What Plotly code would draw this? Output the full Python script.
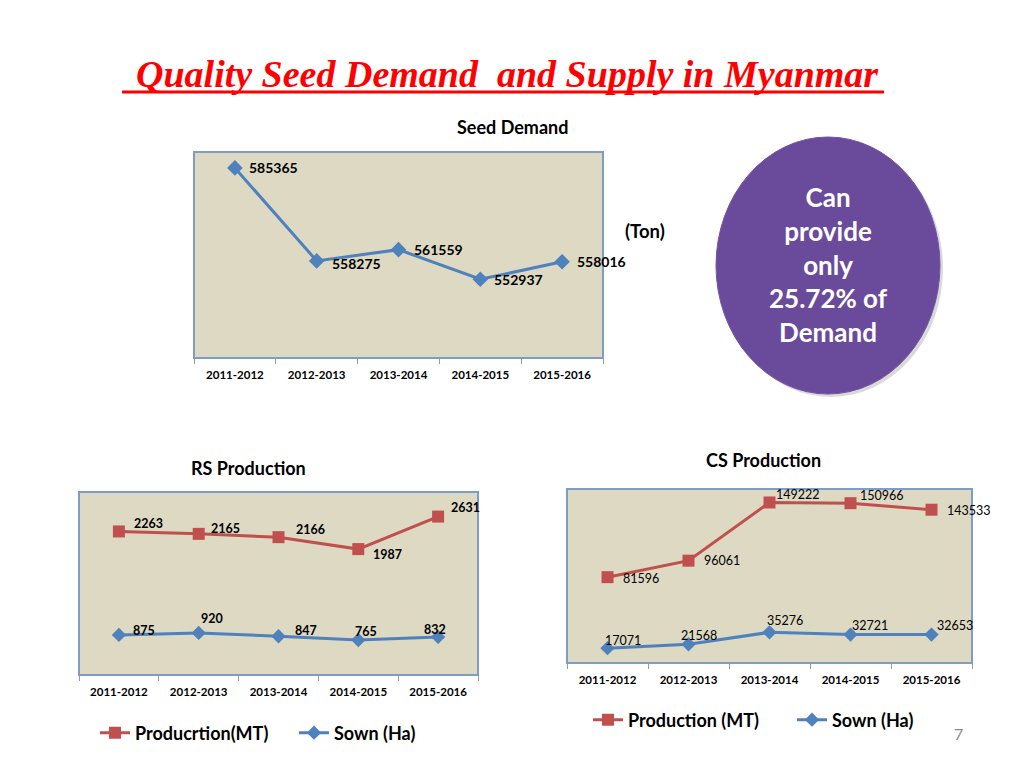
import plotly.graph_objects as go

# ---------------- data ----------------
years = ["2011-2012", "2012-2013", "2013-2014", "2014-2015", "2015-2016"]
seed_demand = [585365, 558275, 561559, 552937, 558016]
rs_production = [2263, 2165, 2166, 1987, 2631]
rs_sown = [875, 920, 847, 765, 832]
cs_production = [81596, 96061, 149222, 150966, 143533]
cs_sown = [17071, 21568, 35276, 32721, 32653]

W, H = 1024, 768
def px(x):
    return x / W
def py(y):
    return 1 - y / H

BLUE = "#4F81BD"
RED = "#C0504D"
BG = "#DDD9C3"
FONT = "Lato"

fig = go.Figure()

# Seed demand
fig.add_trace(go.Scatter(
    x=years, y=seed_demand, xaxis="x", yaxis="y",
    mode="lines+markers", line=dict(color=BLUE, width=3),
    marker=dict(symbol="diamond", size=12, color=BLUE),
    showlegend=False, cliponaxis=False,
))

# RS production (stacked line chart)
fig.add_trace(go.Scatter(
    x=years, y=rs_sown, xaxis="x2", yaxis="y2", stackgroup="rs", fill="none",
    mode="lines+markers", name="Sown (Ha)",
    line=dict(color=BLUE, width=3),
    marker=dict(symbol="diamond", size=11, color=BLUE),
    legend="legend2", legendrank=2, cliponaxis=False,
))
fig.add_trace(go.Scatter(
    x=years, y=rs_production, xaxis="x2", yaxis="y2", stackgroup="rs", fill="none",
    mode="lines+markers", name="Producrtion(MT)",
    line=dict(color=RED, width=3),
    marker=dict(symbol="square", size=12, color=RED),
    legend="legend2", legendrank=1, cliponaxis=False,
))

# CS production (stacked line chart)
fig.add_trace(go.Scatter(
    x=years, y=cs_sown, xaxis="x3", yaxis="y3", stackgroup="cs", fill="none",
    mode="lines+markers", name="Sown (Ha)",
    line=dict(color=BLUE, width=3),
    marker=dict(symbol="diamond", size=11, color=BLUE),
    legend="legend3", legendrank=2, cliponaxis=False,
))
fig.add_trace(go.Scatter(
    x=years, y=cs_production, xaxis="x3", yaxis="y3", stackgroup="cs", fill="none",
    mode="lines+markers", name="Production (MT)",
    line=dict(color=RED, width=3),
    marker=dict(symbol="square", size=12, color=RED),
    legend="legend3", legendrank=1, cliponaxis=False,
))

# ---------------- data labels (placed on the axes' scales) ----------------
rs_total = [s + p for s, p in zip(rs_sown, rs_production)]
cs_total = [s + p for s, p in zip(cs_sown, cs_production)]

annotations = []
def add_labels(xr, yr, values, ypos, offsets, size, bold):
    for xv, v, yv, (dx, dy) in zip(years, values, ypos, offsets):
        t = f"<b>{v}</b>" if bold else str(v)
        annotations.append(dict(
            x=xv, y=yv, xref=xr, yref=yr, text=t, showarrow=False,
            xanchor="left", yanchor="middle", xshift=dx, yshift=-dy, borderpad=0,
            font=dict(family=FONT, size=size, color="black")))

add_labels("x", "y", seed_demand, seed_demand,
           [(13, 0), (14, 3), (14, 0), (13, 0), (14, 0)], 14, True)
add_labels("x2", "y2", rs_production, rs_total,
           [(14, -8), (11, -5), (16, -8), (14, 5), (12, -9)], 12.5, True)
add_labels("x2", "y2", rs_sown, rs_sown,
           [(13, -4), (1, -14), (15, -6), (-4, -9), (-15, -7)], 12.5, True)
add_labels("x3", "y3", cs_production, cs_total,
           [(14, 1), (14, 0), (5, -8), (8, -8), (14, 1)], 12.5, False)
add_labels("x3", "y3", cs_sown, cs_sown,
           [(-4, -8), (-9, -9), (-4, -12), (0, -9), (4, -9)], 12.5, False)

xcommon = dict(type="category", range=[-0.5, 4.5], showgrid=False, zeroline=False,
               showline=False, ticks="outside", tickson="boundaries", ticklen=5,
               tickcolor="#9A9A9A", tickwidth=1, ticklabelstandoff=8,
               tickfont=dict(family=FONT, size=11.5, color="black", weight="bold"),
               fixedrange=True)
ycommon = dict(showgrid=False, zeroline=False, showticklabels=False, showline=False,
               ticks="", fixedrange=True)

shapes = []
for xr, yr in (("x", "y"), ("x2", "y2"), ("x3", "y3")):
    shapes.append(dict(type="rect", xref=f"{xr} domain", yref=f"{yr} domain",
                       x0=0, x1=1, y0=0, y1=1, fillcolor=BG,
                       line=dict(color="#7D9DC6", width=2), layer="below"))

# callout ellipse with shadow
shapes.append(dict(type="circle", xref="paper", yref="paper",
                   x0=px(719), x1=px(943), y0=py(397), y1=py(140),
                   fillcolor="rgba(0,0,0,0.15)", line=dict(width=0)))
shapes.append(dict(type="circle", xref="paper", yref="paper",
                   x0=px(716), x1=px(940), y0=py(394), y1=py(137),
                   fillcolor="#6A4B9B", line=dict(color="#7452A6", width=1)))
# title underline
shapes.append(dict(type="line", xref="paper", yref="paper",
                   x0=px(122), x1=px(884), y0=py(92), y1=py(92),
                   line=dict(color="#FF0000", width=3)))

def text_ann(x, y, text, size, color="black", family=FONT):
    return dict(x=px(x), y=py(y), xref="paper", yref="paper", showarrow=False,
                xanchor="center", yanchor="middle", text=text, align="center",
                font=dict(family=family, size=size, color=color))

annotations += [
    text_ann(507, 74, "<b><i>Quality Seed Demand  and Supply in Myanmar</i></b>", 38,
             "#FF0000", "Liberation Serif"),
    text_ann(512, 127, "<b>Seed Demand</b>", 18),
    text_ann(645, 231, "<b>(Ton)</b>", 18.5),
    text_ann(248, 468, "<b>RS Production</b>", 18),
    text_ann(763, 460, "<b>CS Production</b>", 18),
    text_ann(828, 264, "<b>Can<br>provide<br>only<br>25.72% of<br>Demand</b>", 26, "white"),
    text_ann(958, 733, "7", 16, "#8C8C8C"),
]

legend_font = dict(family=FONT, size=18, color="black", weight="bold")

fig.update_layout(
    width=W, height=H, margin=dict(l=0, r=0, t=0, b=0),
    paper_bgcolor="white", plot_bgcolor="rgba(0,0,0,0)",
    xaxis=dict(domain=[px(194), px(603)], anchor="y", **xcommon),
    yaxis=dict(domain=[py(358), py(152)], anchor="x", range=[530000, 590000], **ycommon),
    xaxis2=dict(domain=[px(79), px(478)], anchor="y2", **xcommon),
    yaxis2=dict(domain=[py(675), py(492)], anchor="x2", range=[0, 4000], **ycommon),
    xaxis3=dict(domain=[px(567), px(972)], anchor="y3", **xcommon),
    yaxis3=dict(domain=[py(663), py(489)], anchor="x3", range=[0, 200000], **ycommon),
    legend2=dict(orientation="h", x=px(95), y=py(733), xanchor="left", yanchor="middle",
                 font=legend_font, bgcolor="rgba(0,0,0,0)", itemclick=False,
                 entrywidth=154, entrywidthmode="pixels"),
    legend3=dict(orientation="h", x=px(588), y=py(720), xanchor="left", yanchor="middle",
                 font=legend_font, bgcolor="rgba(0,0,0,0)", itemclick=False,
                 entrywidth=159, entrywidthmode="pixels"),
    shapes=shapes, annotations=annotations,
    hovermode=False,
)

fig.write_html("out.html", config=dict(displayModeBar=False),
               post_script="document.body.style.margin='0px';")
